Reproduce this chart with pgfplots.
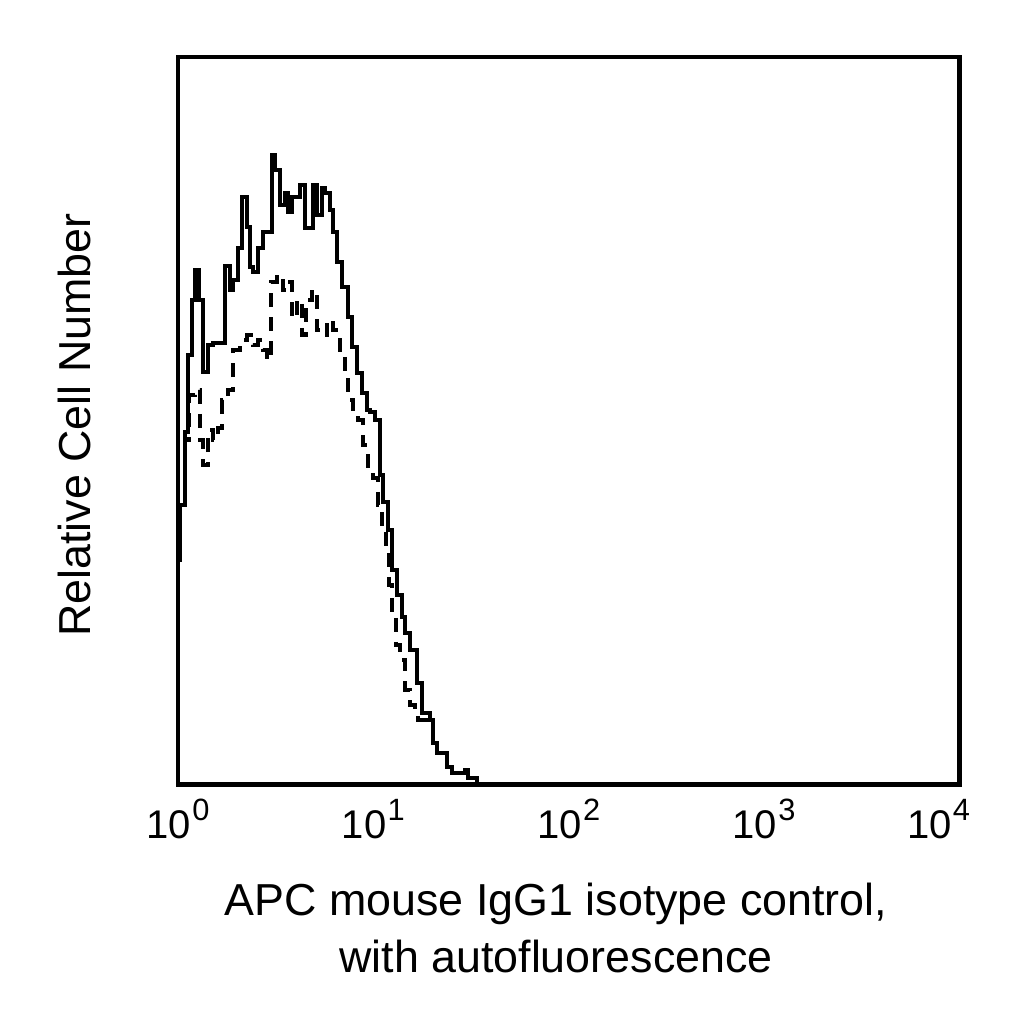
\documentclass[border=0pt]{standalone}
\usepackage{fontspec}
\setmainfont{Liberation Sans}
\usepackage{pgfplots}
\pgfplotsset{compat=1.18}
\usepackage{pgfplotstable}
\newcommand{\dec}[1]{10\kern0.3bp\raisebox{4.5bp}{\fontsize{7.7bp}{8bp}\selectfont #1}}

% x = log10(fluorescence), h = relative cell number
\pgfplotstableread{
x h
0.000 224.5
0.010 279.5
0.036 352.5
0.051 429.5
0.072 484.5
0.087 514.5
0.107 484.5
0.128 412.5
0.154 439.5
0.179 441.5
0.241 518.5
0.266 494.5
0.282 504.5
0.307 536.5
0.328 587.5
0.353 557.5
0.369 517.5
0.384 512.5
0.409 536.5
0.435 552.5
0.481 629.5
0.496 614.5
0.522 579.5
0.548 591.5
0.563 572.5
0.583 587.5
0.624 599.5
0.650 556.5
0.691 599.5
0.711 569.5
0.737 596.5
0.752 591.5
0.778 574.5
0.793 552.5
0.814 522.5
0.839 497.5
0.870 467.5
0.891 437.5
0.916 411.5
0.942 391.5
0.967 374.5
0.983 372.5
1.008 364.5
1.034 309.5
1.049 282.5
1.075 254.5
1.095 214.5
1.121 189.5
1.147 167.5
1.162 151.5
1.187 134.5
1.223 101.5
1.249 71.5
1.290 64.5
1.305 41.5
1.326 31.5
1.377 17.5
1.402 11.5
1.469 14.5
1.484 6.5
1.530 0
4.000 0
}\solidtable

\pgfplotstableread{
x h
0.000 224.5
0.010 279.5
0.036 344.5
0.056 389.5
0.087 394.5
0.113 344.5
0.128 319.5
0.154 354.5
0.179 344.5
0.205 356.5
0.225 384.5
0.256 394.5
0.282 434.5
0.317 444.5
0.353 449.5
0.384 439.5
0.409 444.5
0.435 434.5
0.456 424.5
0.476 502.5
0.507 509.5
0.537 494.5
0.563 502.5
0.583 466.5
0.609 484.5
0.635 449.5
0.655 484.5
0.686 494.5
0.711 454.5
0.737 449.5
0.763 464.5
0.793 454.5
0.829 434.5
0.855 409.5
0.870 384.5
0.896 369.5
0.921 364.5
0.947 339.5
0.972 309.5
0.998 306.5
1.024 279.5
1.044 254.5
1.065 229.5
1.080 199.5
1.095 169.5
1.116 139.5
1.136 124.5
1.162 94.5
1.187 79.5
1.213 72.5
1.228 64.5
1.290 64.5
1.305 41.5
1.326 31.5
1.377 17.5
1.402 11.5
1.469 14.5
1.484 6.5
1.530 0
4.000 0
}\dashedtable

\begin{document}
\begin{tikzpicture}
\path[use as bounding box] (0,0) rectangle (256bp,256bp);
\begin{axis}[
  at={(44.5bp,59.875bp)}, anchor=south west,
  scale only axis,
  width=195.375bp, height=181.875bp,
  xmin=0, xmax=4, ymin=0, ymax=727.5,
  xtick={0,1,2,3,4},
  xticklabels={\dec{0},\dec{1},\dec{2},\dec{3},\dec{4}\hspace*{10.5bp}},
  ytick=\empty,
  major tick length=0pt,
  axis line style={line width=1.2bp},
  xticklabel style={anchor=base, yshift=-13.375bp, font=\fontsize{10bp}{11bp}\selectfont},
  xlabel={APC mouse IgG1 isotype control,\\with autofluorescence},
  ylabel={Relative Cell Number},
  every axis x label/.style={at={(axis description cs:0.4837,-0.134)}, anchor=north, align=center, inner sep=0pt, font=\fontsize{11.2bp}{14.25bp}\selectfont},
  every axis y label/.style={at={(axis description cs:-0.1126,0.494)}, rotate=90, anchor=base, inner sep=0pt, font=\fontsize{11.2bp}{14.25bp}\selectfont},
]
\addplot[const plot, black, line width=1bp, dash pattern=on 3.5bp off 2.5bp] table[x=x,y=h] {\dashedtable};
\addplot[const plot, black, line width=1bp] table[x=x,y=h] {\solidtable};
\end{axis}
\end{tikzpicture}
\end{document}
